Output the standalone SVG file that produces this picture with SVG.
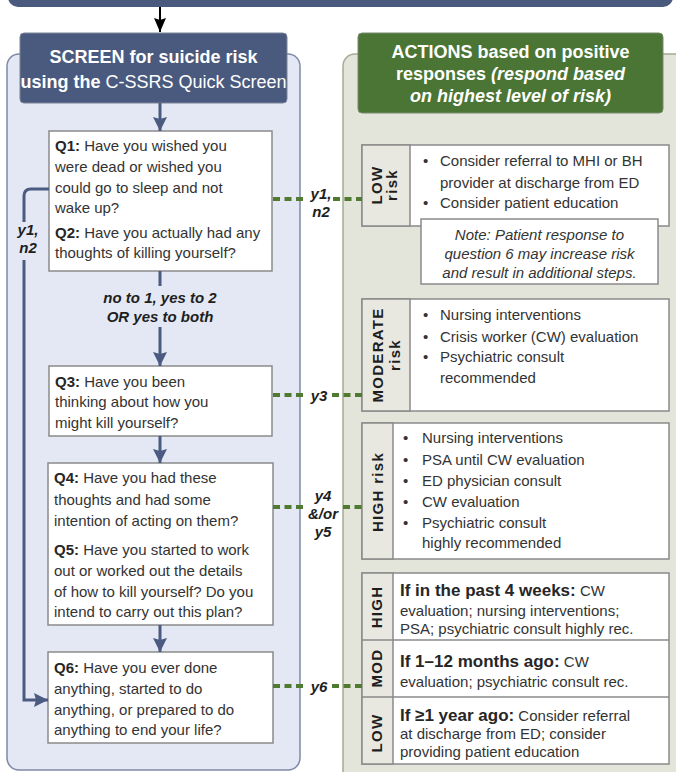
<svg xmlns="http://www.w3.org/2000/svg" width="676" height="772" viewBox="0 0 676 772">
<defs>
<style>
text{font-family:"Liberation Sans",Arial,sans-serif;font-size:15px;fill:#333}
.b{font-weight:bold;fill:#262626}
.hd{font-size:18px;font-weight:bold;fill:#fff}
.lbl{font-weight:bold;font-style:italic;fill:#1e1e1e}
.rot{font-weight:bold;fill:#1e1e1e;letter-spacing:1.3px}
.box{fill:#fff;stroke:#8a8a8a;stroke-width:1.5}
.col{fill:#e8e8e1;stroke:#8a8a8a;stroke-width:1.5}
.blue{stroke:#4a5a80;stroke-width:3;fill:none}
.dash{stroke:#4f7a30;stroke-width:4;stroke-dasharray:7 4.5;fill:none}
</style>
<marker id="ah" markerUnits="userSpaceOnUse" markerWidth="14" markerHeight="14" refX="14" refY="7" orient="auto">
<path d="M0,0 L14,7 L0,14 L2,7 Z" fill="#4a5a80"/>
</marker>
<marker id="ahk" markerUnits="userSpaceOnUse" markerWidth="14" markerHeight="12" refX="14" refY="6" orient="auto">
<path d="M0,0 L14,6 L0,12 L2,6 Z" fill="#000"/>
</marker>
</defs>

<!-- top bar -->
<rect x="8" y="-20" width="665" height="27" rx="10" fill="#4a5a7e"/>

<!-- panels -->
<g id="screen-panel">
<rect x="7" y="54" width="293" height="716" rx="12" fill="#e4e8f4" stroke="#7f89a6" stroke-width="1.5"/>
<rect x="20" y="33" width="267" height="70" rx="4" fill="#4a5a7e" stroke="#7a8296" stroke-width="1"/>
<text class="hd" x="153.5" y="63" text-anchor="middle">SCREEN for suicide risk</text>
<text class="hd" x="153.5" y="88" text-anchor="middle">using the <tspan font-weight="normal">C-SSRS Quick Screen</tspan></text>
</g>

<g id="actions-panel">
<rect x="343" y="54" width="345" height="730" rx="12" fill="#e3e5da" stroke="#a2aa92" stroke-width="1.5"/>
<rect x="358" y="33" width="305" height="80" rx="4" fill="#4a7535" stroke="#7a8a70" stroke-width="1"/>
<text class="hd" x="510.5" y="58" text-anchor="middle">ACTIONS based on positive</text>
<text class="hd" x="510.5" y="80" text-anchor="middle">responses <tspan font-style="italic">(respond based</tspan></text>
<text class="hd" x="510.5" y="102" text-anchor="middle" font-style="italic">on highest level of risk)</text>
</g>

<!-- question nodes -->
<g id="q1q2">
<rect class="box" x="49" y="131" width="223" height="140"/>
<text x="55" y="151"><tspan class="b">Q1:</tspan> Have you wished you</text>
<text x="55" y="172">were dead or wished you</text>
<text x="55" y="193">could go to sleep and not</text>
<text x="55" y="213">wake up?</text>
<text x="55" y="238"><tspan class="b">Q2:</tspan> Have you actually had any</text>
<text x="55" y="258">thoughts of killing yourself?</text>
</g>

<g id="q3">
<rect class="box" x="49" y="366" width="223" height="70"/>
<text x="55" y="387"><tspan class="b">Q3:</tspan> Have you been</text>
<text x="55" y="407">thinking about how you</text>
<text x="55" y="428">might kill yourself?</text>
</g>

<g id="q4q5">
<rect class="box" x="48" y="463" width="225" height="162"/>
<text x="54" y="483"><tspan class="b">Q4:</tspan> Have you had these</text>
<text x="54" y="505">thoughts and had some</text>
<text x="54" y="526">intention of acting on them?</text>
<text x="54" y="555"><tspan class="b">Q5:</tspan> Have you started to work</text>
<text x="54" y="576">out or worked out the details</text>
<text x="54" y="597">of how to kill yourself? Do you</text>
<text x="54" y="617">intend to carry out this plan?</text>
</g>

<g id="q6">
<rect class="box" x="48" y="652" width="225" height="91"/>
<text x="54" y="673"><tspan class="b">Q6:</tspan> Have you ever done</text>
<text x="54" y="694">anything, started to do</text>
<text x="54" y="715">anything, or prepared to do</text>
<text x="54" y="735">anything to end your life?</text>
</g>

<!-- action nodes -->
<g id="low-risk">
<rect class="box" x="362" y="145" width="307" height="81"/>
<rect class="col" x="362" y="145" width="48" height="81"/>
<text class="rot" transform="translate(386,185) rotate(-90)" text-anchor="middle"><tspan x="0" y="-4">LOW</tspan><tspan x="0" y="11">risk</tspan></text>
<text x="423" y="166">•</text><text x="440" y="166">Consider referral to MHI or BH</text>
<text x="440" y="188">provider at discharge from ED</text>
<text x="423" y="208">•</text><text x="440" y="208">Consider patient education</text>
</g>

<g id="note">
<rect class="box" x="421" y="219" width="237" height="65"/>
<text x="539.5" y="240" text-anchor="middle" font-style="italic">Note: Patient response to</text>
<text x="539.5" y="259" text-anchor="middle" font-style="italic">question 6 may increase risk</text>
<text x="539.5" y="278" text-anchor="middle" font-style="italic">and result in additional steps.</text>
</g>

<g id="moderate-risk">
<rect class="box" x="362" y="299" width="307" height="112"/>
<rect class="col" x="362" y="299" width="48" height="112"/>
<text class="rot" transform="translate(386,355) rotate(-90)" text-anchor="middle"><tspan x="0" y="-3">MODERATE</tspan><tspan x="0" y="14">risk</tspan></text>
<text x="423" y="320">•</text><text x="440" y="320">Nursing interventions</text>
<text x="423" y="342">•</text><text x="440" y="342">Crisis worker (CW) evaluation</text>
<text x="423" y="362">•</text><text x="440" y="362">Psychiatric consult</text>
<text x="440" y="383">recommended</text>
</g>

<g id="high-risk">
<rect class="box" x="362" y="423" width="307" height="136"/>
<rect class="col" x="362" y="423" width="31" height="136"/>
<text class="rot" transform="translate(377,492) rotate(-90)" text-anchor="middle" y="6">HIGH risk</text>
<text x="403" y="443">•</text><text x="422" y="443">Nursing interventions</text>
<text x="403" y="465">•</text><text x="422" y="465">PSA until CW evaluation</text>
<text x="403" y="486">•</text><text x="422" y="486">ED physician consult</text>
<text x="403" y="507">•</text><text x="422" y="507">CW evaluation</text>
<text x="403" y="528">•</text><text x="422" y="528">Psychiatric consult</text>
<text x="422" y="548">highly recommended</text>
</g>

<g id="q6-actions">
<rect class="box" x="362" y="573" width="307" height="191"/>
<rect class="col" x="362" y="573" width="31" height="191"/>
<line x1="362" y1="640" x2="669" y2="640" stroke="#8a8a8a" stroke-width="1.5"/>
<line x1="362" y1="697" x2="669" y2="697" stroke="#8a8a8a" stroke-width="1.5"/>
<text class="rot" transform="translate(377,607) rotate(-90)" text-anchor="middle" y="5">HIGH</text>
<text class="rot" transform="translate(377,668) rotate(-90)" text-anchor="middle" y="5">MOD</text>
<text class="rot" transform="translate(377,733) rotate(-90)" text-anchor="middle" y="5">LOW</text>
<text x="400" y="596"><tspan class="b" font-size="17">If in the past 4 weeks:</tspan> CW</text>
<text x="400" y="616">evaluation; nursing interventions;</text>
<text x="400" y="634">PSA; psychiatric consult highly rec.</text>
<text x="400" y="667"><tspan class="b" font-size="17">If 1–12 months ago:</tspan> CW</text>
<text x="400" y="687">evaluation; psychiatric consult rec.</text>
<text x="400" y="721"><tspan class="b" font-size="17">If ≥1 year ago:</tspan> Consider referral</text>
<text x="400" y="739">at discharge from ED; consider</text>
<text x="400" y="757">providing patient education</text>
</g>

<!-- connectors -->
<g id="connectors">
<line x1="160" y1="7" x2="160" y2="32" stroke="#000" stroke-width="2" marker-end="url(#ahk)"/>
<line class="blue" x1="160" y1="103" x2="160" y2="131" marker-end="url(#ah)"/>
<line class="blue" x1="160" y1="271" x2="160" y2="286"/>
<text class="lbl" x="160" y="303" text-anchor="middle">no to 1, yes to 2</text>
<text class="lbl" x="160" y="322" text-anchor="middle">OR yes to both</text>
<line class="blue" x1="160" y1="327" x2="160" y2="366" marker-end="url(#ah)"/>
<line class="blue" x1="160" y1="436" x2="160" y2="463" marker-end="url(#ah)"/>
<line class="blue" x1="160" y1="625" x2="160" y2="652" marker-end="url(#ah)"/>
<path class="blue" stroke-width="3.5" d="M49,189 H31 Q24,189 24,196 V222"/>
<path class="blue" stroke-width="3.5" d="M24,260 V700 H48" marker-end="url(#ah)"/>
<text class="lbl" x="28" y="235" text-anchor="middle">y1,</text>
<text class="lbl" x="28" y="253" text-anchor="middle">n2</text>

<line class="dash" x1="273" y1="199" x2="307" y2="199"/>
<line class="dash" x1="333" y1="199" x2="362" y2="199"/>
<text class="lbl" x="321" y="199" text-anchor="middle">y1,</text>
<text class="lbl" x="321" y="217" text-anchor="middle">n2</text>

<line class="dash" x1="273" y1="395" x2="306" y2="395"/>
<line class="dash" x1="332" y1="395" x2="362" y2="395"/>
<text class="lbl" x="319" y="401" text-anchor="middle">y3</text>

<line class="dash" x1="273" y1="507" x2="304" y2="507"/>
<line class="dash" x1="343" y1="507" x2="362" y2="507"/>
<text class="lbl" x="323" y="501" text-anchor="middle">y4</text>
<text class="lbl" x="323" y="519" text-anchor="middle" font-size="12">&amp;/or</text>
<text class="lbl" x="323" y="537" text-anchor="middle">y5</text>

<line class="dash" x1="273" y1="686" x2="306" y2="686"/>
<line class="dash" x1="332" y1="686" x2="362" y2="686"/>
<text class="lbl" x="319" y="692" text-anchor="middle">y6</text>
</g>
</svg>
